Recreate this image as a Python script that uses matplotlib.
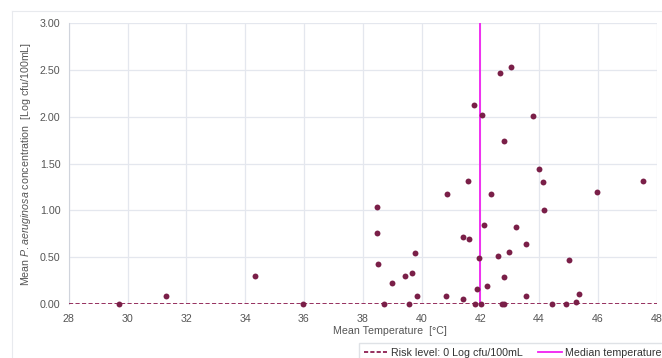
import matplotlib.pyplot as plt
from matplotlib.lines import Line2D

plt.rcParams['font.family'] = ['Liberation Sans', 'DejaVu Sans']
plt.rcParams['mathtext.fontset'] = 'custom'
plt.rcParams['mathtext.rm'] = 'Liberation Sans'
plt.rcParams['mathtext.it'] = 'Liberation Sans:italic'

# mean temperature (°C) and mean P. aeruginosa concentration (log cfu/100mL)
temp = [29.70, 31.32, 34.32, 35.98,
        38.49, 38.47, 38.52, 38.72, 39.01, 39.44, 39.58, 39.66, 39.77, 39.83,
        40.83, 40.86, 41.41, 41.41, 41.58, 41.61, 41.80, 41.81, 41.90, 41.97,
        42.03, 42.06, 42.11, 42.21, 42.36, 42.61, 42.67, 42.74, 42.80, 42.80,
        42.81, 42.97, 43.03, 43.22, 43.56, 43.56, 43.78, 44.00, 44.14, 44.17,
        44.45, 44.92, 45.00, 45.25, 45.37, 45.98, 47.53]
conc = [0.00, 0.09, 0.30, 0.00,
        1.04, 0.76, 0.43, 0.00, 0.22, 0.30, 0.00, 0.33, 0.54, 0.09,
        0.09, 1.18, 0.72, 0.05, 1.31, 0.69, 2.13, 0.00, 0.16, 0.49,
        0.00, 2.02, 0.84, 0.19, 1.17, 0.51, 2.47, 0.00, 1.74, 0.29,
        0.00, 0.56, 2.53, 0.82, 0.64, 0.08, 2.01, 1.44, 1.30, 1.00,
        0.00, 0.00, 0.47, 0.02, 0.11, 1.20, 1.31]

risk_level = 0.0
median_temp = 42.0
x_ticks = [28, 30, 32, 34, 36, 38, 40, 42, 44, 46, 48]
y_ticks = [0.0, 0.5, 1.0, 1.5, 2.0, 2.5, 3.0]

point_col = '#7a1f48'
risk_col = '#8e1f52'
median_col = '#f020f0'
text_col = '#555555'
grid_col = '#e4e7ee'

fig = plt.figure(figsize=(6.62, 3.58), dpi=100)
ax = fig.add_axes([0.104, 0.151, 0.888, 0.784])

ax.scatter(temp, conc, s=18, color=point_col, zorder=4, clip_on=False, linewidths=0)
ax.axhline(risk_level, color=risk_col, linestyle=(0, (2.3, 1.3)), linewidth=1.3, zorder=3)
ax.axvline(median_temp, color=median_col, linewidth=1.3, zorder=3)

ax.set_xlim(28, 48)
ax.set_ylim(0, 3)
ax.set_xticks(x_ticks)
ax.set_yticks(y_ticks)
ax.set_yticklabels(['%.2f' % v for v in y_ticks])
ax.tick_params(length=0, labelsize=7.7, labelcolor=text_col)
ax.tick_params(axis='x', pad=7)
ax.tick_params(axis='y', pad=6)
ax.grid(True, color=grid_col, linewidth=0.9, zorder=0)
ax.set_axisbelow(True)
for s in ['top', 'right', 'bottom']:
    ax.spines[s].set_visible(False)
ax.spines['left'].set_color('#d0d4dc')
ax.spines['left'].set_linewidth(0.8)

ax.set_ylabel(r'Mean $\it{P.aeruginosa}$ concentration  [Log cfu/100mL]',
              fontsize=7.7, color=text_col, labelpad=5)
fig.text(333 / 662, 1 - 331 / 358, 'Mean Temperature  [°C]', fontsize=7.7,
         color=text_col, ha='left', va='center')

# light outer frame
fig.add_artist(Line2D([12 / 662, 1], [1 - 11 / 358, 1 - 11 / 358],
                      color='#e8eaee', linewidth=0.8))
fig.add_artist(Line2D([12 / 662, 12 / 662], [0, 1 - 11 / 358],
                      color='#e8eaee', linewidth=0.8))

handles = [Line2D([], [], color=risk_col, linestyle=(0, (2.3, 1.2)), linewidth=1.3),
           Line2D([], [], color=median_col, linewidth=1.3)]
leg = fig.legend(handles, ['Risk level: 0 Log cfu/100mL', 'Median temperature'],
                 loc='upper left', bbox_to_anchor=(359 / 662, 1 - 343 / 358),
                 borderaxespad=0, ncol=2, fontsize=7.7, frameon=True, fancybox=False,
                 handlelength=2.2, handletextpad=0.3, columnspacing=1.5,
                 borderpad=0.45, edgecolor='#d8dbe0')
for t in leg.get_texts():
    t.set_color('#333333')

fig.savefig('out.png', dpi=100)
